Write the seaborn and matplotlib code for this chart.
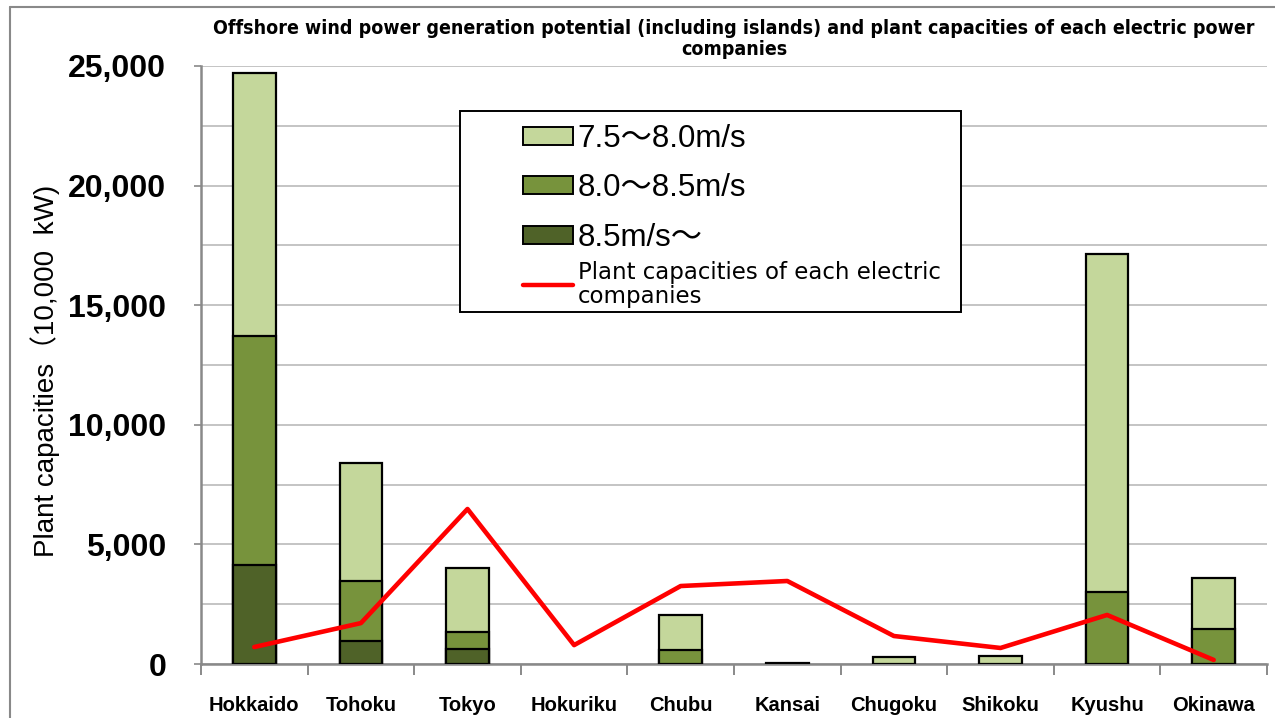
import numpy as np
import pandas as pd
import matplotlib
matplotlib.use("Agg")
import matplotlib.pyplot as plt
from matplotlib.patches import Patch, Rectangle
from matplotlib.lines import Line2D
from matplotlib.ticker import MultipleLocator, FuncFormatter
import seaborn as sns

# Offshore wind potential by wind-speed class (10,000 kW) and plant capacities
regions = ["Hokkaido", "Tohoku", "Tokyo", "Hokuriku", "Chubu",
           "Kansai", "Chugoku", "Shikoku", "Kyushu", "Okinawa"]
wind_85_up = [4150, 970, 630, 0, 0, 0, 0, 0, 0, 0]
wind_80_85 = [9560, 2500, 710, 0, 600, 0, 0, 0, 3000, 1470]
wind_75_80 = [11000, 4930, 2670, 0, 1450, 60, 290, 330, 14140, 2130]
plant_capacity = [710, 1710, 6480, 790, 3260, 3470, 1170, 670, 2050, 170]

series_labels = ["7.5～8.0m/s", "8.0～8.5m/s", "8.5m/s～"]
line_label = "Plant capacities of each electric\ncompanies"
title = ("Offshore wind power generation potential (including islands) and plant capacities of each electric power\n"
         "companies")
ylabel = "Plant capacities（10,000  kW)"

c_light, c_mid, c_dark = "#C4D79B", "#77933C", "#4F6228"
c_line = "#FF0000"
c_axis = "#898989"
c_grid = "#C4C4C4"

sns.set_theme(style="white")
plt.rcParams["font.family"] = ["Liberation Sans", "Noto Sans CJK JP", "DejaVu Sans"]
plt.rcParams["text.color"] = "black"
plt.rcParams["axes.labelcolor"] = "black"
plt.rcParams["xtick.color"] = "black"
plt.rcParams["ytick.color"] = "black"

df = pd.DataFrame({
    "region": regions,
    "dark": wind_85_up,
    "mid": wind_80_85,
    "light": wind_75_80,
    "plant": plant_capacity,
})
df["cum_dark"] = df["dark"]
df["cum_mid"] = df["dark"] + df["mid"]
df["cum_light"] = df["cum_mid"] + df["light"]

W, H = 1275, 718
fig = plt.figure(figsize=(W / 100, H / 100), dpi=100)
ax = fig.add_axes([201 / W, (H - 664) / H, (1267 - 201) / W, (664 - 66) / H])


def ax_xy(px, py):
    """Pixel position on the canvas -> axes fraction."""
    return (px - 201) / 1066, (664 - py) / 598


# stacked columns: draw cumulative totals from the top class down
for col, color in [("cum_light", c_light), ("cum_mid", c_mid), ("cum_dark", c_dark)]:
    sns.barplot(data=df, x="region", y=col, order=regions, color=color,
                width=0.4, edgecolor="black", linewidth=1.6, saturation=1,
                ax=ax, zorder=3)
for p in ax.patches:
    if p.get_height() <= 0:
        p.set_visible(False)

sns.lineplot(x=np.arange(len(regions)), y=df["plant"], color=c_line,
             linewidth=3.3, ax=ax, zorder=4)

ax.set_xlim(-0.5, len(regions) - 0.5)
ax.set_ylim(0, 25000)
ax.set_xlabel("")
ax.set_ylabel(ylabel, fontsize=20, labelpad=0, color="black")
ax.yaxis.set_label_coords(*ax_xy(45, 371))
ax.yaxis.label.set_va("center")

# y axis: labels every 5,000, gridlines every 2,500
ax.yaxis.set_major_locator(MultipleLocator(5000))
ax.yaxis.set_minor_locator(MultipleLocator(2500))
ax.yaxis.set_major_formatter(FuncFormatter(lambda v, _: f"{int(v):,}"))
ax.grid(axis="y", which="both", color=c_grid, linewidth=1.4, zorder=0)
ax.set_axisbelow(True)
ax.tick_params(axis="y", which="major", length=5, width=1.2, color=c_axis,
               left=True, pad=20, labelsize=23, labelcolor="black")
ax.tick_params(axis="y", which="minor", length=0)
for lbl in ax.get_yticklabels():
    lbl.set_fontweight("bold")

# x axis: category labels with tick marks between categories
ax.set_xticks(np.arange(len(regions)))
ax.set_xticklabels(regions, fontsize=14.5, fontweight="bold", color="black")
ax.set_xticks(np.arange(len(regions) + 1) - 0.5, minor=True)
ax.tick_params(axis="x", which="major", length=0, pad=23)
ax.tick_params(axis="x", which="minor", length=8, width=1.4, color=c_axis,
               bottom=True, direction="out")

for side in ["top", "right"]:
    ax.spines[side].set_visible(False)
for side in ["left", "bottom"]:
    ax.spines[side].set_color(c_axis)
    ax.spines[side].set_linewidth(1.8)

ax.set_title(title, fontsize=14, fontweight="bold", pad=8, linespacing=1.15,
             family="DejaVu Sans", fontstretch="condensed", color="black")

# legend box
x0, y1 = ax_xy(460, 312)
x1, y0 = ax_xy(961, 111)
box = Rectangle((x0, y1), x1 - x0, y0 - y1, transform=ax.transAxes,
                facecolor="white", edgecolor="black", linewidth=1.4, zorder=5)
ax.add_patch(box)

bar_handles = [
    Patch(facecolor=c_light, edgecolor="black", linewidth=1.4, label=series_labels[0]),
    Patch(facecolor=c_mid, edgecolor="black", linewidth=1.4, label=series_labels[1]),
    Patch(facecolor=c_dark, edgecolor="black", linewidth=1.4, label=series_labels[2]),
]
leg1 = ax.legend(handles=bar_handles, loc="upper left",
                 bbox_to_anchor=ax_xy(523, 124),
                 frameon=False, borderpad=0, borderaxespad=0,
                 fontsize=22.5, handlelength=1.6, handleheight=0.5,
                 handletextpad=0.15, labelspacing=0.62)
leg1.set_zorder(6)
for t in leg1.get_texts():
    t.set_color("black")
ax.add_artist(leg1)

line_handle = [Line2D([], [], color=c_line, linewidth=3.2, label=line_label)]
leg2 = ax.legend(handles=line_handle, loc="upper left",
                 bbox_to_anchor=ax_xy(523, 261),
                 frameon=False, borderpad=0, borderaxespad=0,
                 fontsize=16.5, handlelength=2.2, handletextpad=0.2,
                 prop={"family": "DejaVu Sans", "size": 16.5})
leg2.set_zorder(6)
for t in leg2.get_texts():
    t.set_color("black")
    t.set_linespacing(1.05)

# outer chart frame
fig.add_artist(Line2D([10 / W, 10 / W], [0, 1 - 7 / H], color=c_axis, linewidth=1.5,
                      transform=fig.transFigure))
fig.add_artist(Line2D([10 / W, 1], [1 - 7 / H, 1 - 7 / H], color=c_axis, linewidth=1.5,
                      transform=fig.transFigure))

fig.savefig("out.png", dpi=100)
